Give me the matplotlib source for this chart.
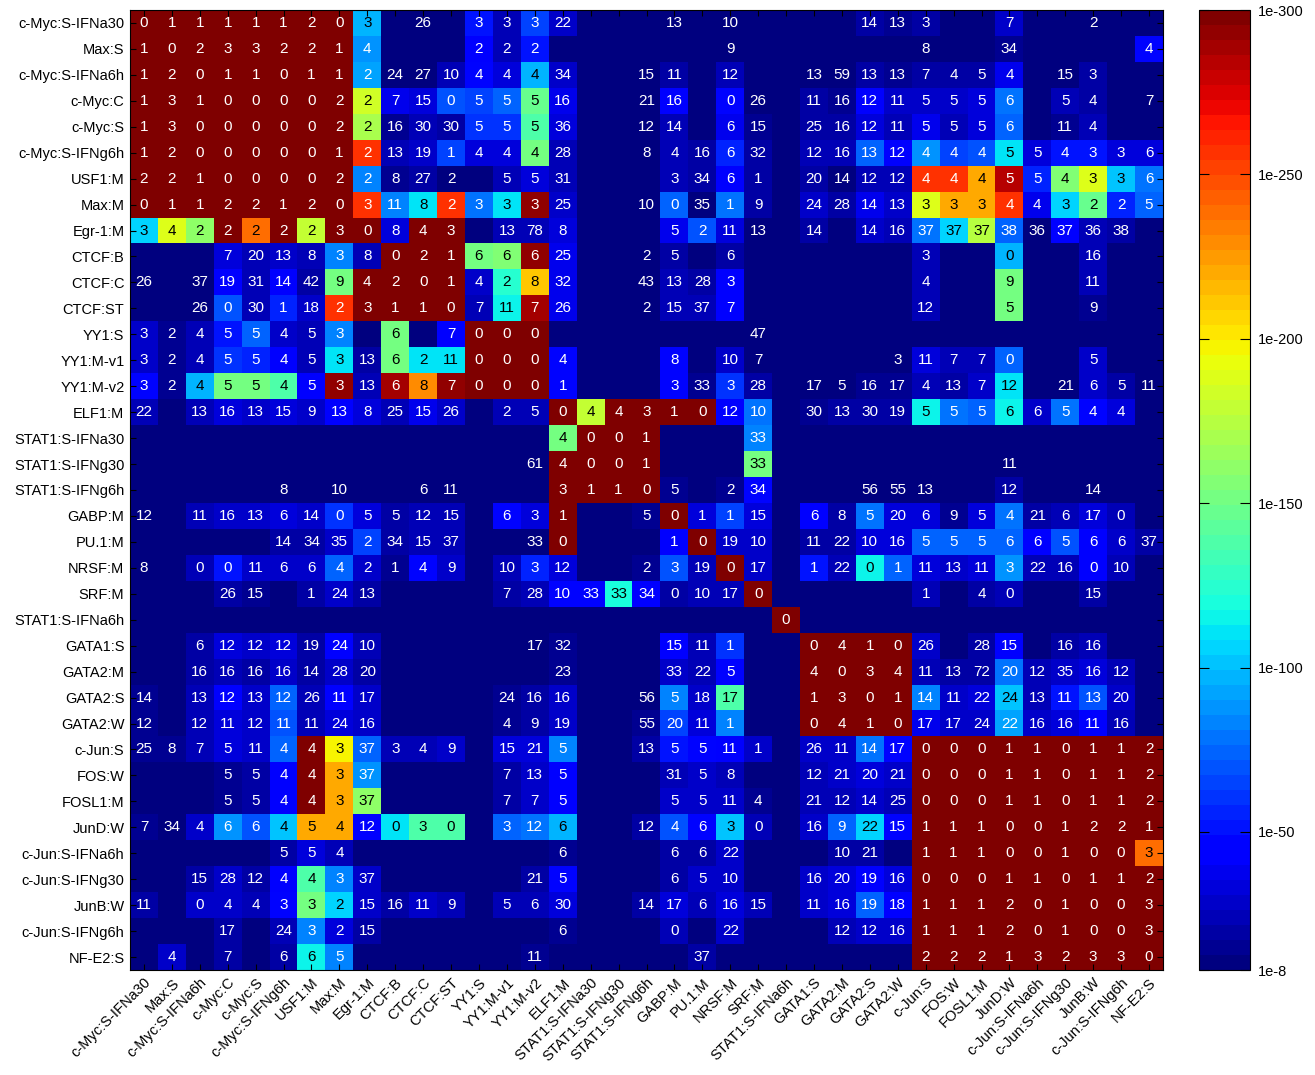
# co-binding heatmap: colour = p-value (-log10), text = distance
import numpy as np
import matplotlib
matplotlib.use('Agg')
import matplotlib.pyplot as plt
from matplotlib.colors import Normalize

plt.rcParams['font.family'] = ['Liberation Sans', 'DejaVu Sans']

FACTORS = ['c-Myc:S-IFNa30', 'Max:S', 'c-Myc:S-IFNa6h', 'c-Myc:C', 'c-Myc:S',
           'c-Myc:S-IFNg6h', 'USF1:M', 'Max:M', 'Egr-1:M', 'CTCF:B', 'CTCF:C',
           'CTCF:ST', 'YY1:S', 'YY1:M-v1', 'YY1:M-v2', 'ELF1:M', 'STAT1:S-IFNa30',
           'STAT1:S-IFNg30', 'STAT1:S-IFNg6h', 'GABP:M', 'PU.1:M', 'NRSF:M', 'SRF:M',
           'STAT1:S-IFNa6h', 'GATA1:S', 'GATA2:M', 'GATA2:S', 'GATA2:W', 'c-Jun:S',
           'FOS:W', 'FOSL1:M', 'JunD:W', 'c-Jun:S-IFNa6h', 'c-Jun:S-IFNg30', 'JunB:W',
           'c-Jun:S-IFNg6h', 'NF-E2:S']

# numbers printed in the cells ('.' = empty cell)
CELL_TEXT = [
    "0 1 1 1 1 1 2 0 3 . 26 . 3 3 3 22 . . . 13 . 10 . . . . 14 13 3 . . 7 . . 2 . .",
    "1 0 2 3 3 2 2 1 4 . . . 2 2 2 . . . . . . 9 . . . . . . 8 . . 34 . . . . 4",
    "1 2 0 1 1 0 1 1 2 24 27 10 4 4 4 34 . . 15 11 . 12 . . 13 59 13 13 7 4 5 4 . 15 3 . .",
    "1 3 1 0 0 0 0 2 2 7 15 0 5 5 5 16 . . 21 16 . 0 26 . 11 16 12 11 5 5 5 6 . 5 4 . 7",
    "1 3 0 0 0 0 0 2 2 16 30 30 5 5 5 36 . . 12 14 . 6 15 . 25 16 12 11 5 5 5 6 . 11 4 . .",
    "1 2 0 0 0 0 0 1 2 13 19 1 4 4 4 28 . . 8 4 16 6 32 . 12 16 13 12 4 4 4 5 5 4 3 3 6",
    "2 2 1 0 0 0 0 2 2 8 27 2 . 5 5 31 . . . 3 34 6 1 . 20 14 12 12 4 4 4 5 5 4 3 3 6",
    "0 1 1 2 2 1 2 0 3 11 8 2 3 3 3 25 . . 10 0 35 1 9 . 24 28 14 13 3 3 3 4 4 3 2 2 5",
    "3 4 2 2 2 2 2 3 0 8 4 3 . 13 78 8 . . . 5 2 11 13 . 14 . 14 16 37 37 37 38 36 37 36 38 .",
    ". . . 7 20 13 8 3 8 0 2 1 6 6 6 25 . . 2 5 . 6 . . . . . . 3 . . 0 . . 16 . .",
    "26 . 37 19 31 14 42 9 4 2 0 1 4 2 8 32 . . 43 13 28 3 . . . . . . 4 . . 9 . . 11 . .",
    ". . 26 0 30 1 18 2 3 1 1 0 7 11 7 26 . . 2 15 37 7 . . . . . . 12 . . 5 . . 9 . .",
    "3 2 4 5 5 4 5 3 . 6 . 7 0 0 0 . . . . . . . 47 . . . . . . . . . . . . . .",
    "3 2 4 5 5 4 5 3 13 6 2 11 0 0 0 4 . . . 8 . 10 7 . . . . 3 11 7 7 0 . . 5 . .",
    "3 2 4 5 5 4 5 3 13 6 8 7 0 0 0 1 . . . 3 33 3 28 . 17 5 16 17 4 13 7 12 . 21 6 5 11",
    "22 . 13 16 13 15 9 13 8 25 15 26 . 2 5 0 4 4 3 1 0 12 10 . 30 13 30 19 5 5 5 6 6 5 4 4 .",
    ". . . . . . . . . . . . . . . 4 0 0 1 . . . 33 . . . . . . . . . . . . . .",
    ". . . . . . . . . . . . . . 61 4 0 0 1 . . . 33 . . . . . . . . 11 . . . . .",
    ". . . . . 8 . 10 . . 6 11 . . . 3 1 1 0 5 . 2 34 . . . 56 55 13 . . 12 . . 14 . .",
    "12 . 11 16 13 6 14 0 5 5 12 15 . 6 3 1 . . 5 0 1 1 15 . 6 8 5 20 6 9 5 4 21 6 17 0 .",
    ". . . . . 14 34 35 2 34 15 37 . . 33 0 . . . 1 0 19 10 . 11 22 10 16 5 5 5 6 6 5 6 6 37",
    "8 . 0 0 11 6 6 4 2 1 4 9 . 10 3 12 . . 2 3 19 0 17 . 1 22 0 1 11 13 11 3 22 16 0 10 .",
    ". . . 26 15 . 1 24 13 . . . . 7 28 10 33 33 34 0 10 17 0 . . . . . 1 . 4 0 . . 15 . .",
    ". . . . . . . . . . . . . . . . . . . . . . . 0 . . . . . . . . . . . . .",
    ". . 6 12 12 12 19 24 10 . . . . . 17 32 . . . 15 11 1 . . 0 4 1 0 26 . 28 15 . 16 16 . .",
    ". . 16 16 16 16 14 28 20 . . . . . . 23 . . . 33 22 5 . . 4 0 3 4 11 13 72 20 12 35 16 12 .",
    "14 . 13 12 13 12 26 11 17 . . . . 24 16 16 . . 56 5 18 17 . . 1 3 0 1 14 11 22 24 13 11 13 20 .",
    "12 . 12 11 12 11 11 24 16 . . . . 4 9 19 . . 55 20 11 1 . . 0 4 1 0 17 17 24 22 16 16 11 16 .",
    "25 8 7 5 11 4 4 3 37 3 4 9 . 15 21 5 . . 13 5 5 11 1 . 26 11 14 17 0 0 0 1 1 0 1 1 2",
    ". . . 5 5 4 4 3 37 . . . . 7 13 5 . . . 31 5 8 . . 12 21 20 21 0 0 0 1 1 0 1 1 2",
    ". . . 5 5 4 4 3 37 . . . . 7 7 5 . . . 5 5 11 4 . 21 12 14 25 0 0 0 1 1 0 1 1 2",
    "7 34 4 6 6 4 5 4 12 0 3 0 . 3 12 6 . . 12 4 6 3 0 . 16 9 22 15 1 1 1 0 0 1 2 2 1",
    ". . . . . 5 5 4 . . . . . . . 6 . . . 6 6 22 . . . 10 21 . 1 1 1 0 0 1 0 0 3",
    ". . 15 28 12 4 4 3 37 . . . . . 21 5 . . . 6 5 10 . . 16 20 19 16 0 0 0 1 1 0 1 1 2",
    "11 . 0 4 4 3 3 2 15 16 11 9 . 5 6 30 . . 14 17 6 16 15 . 11 16 19 18 1 1 1 2 0 1 0 0 3",
    ". . . 17 . 24 3 2 15 . . . . . . 6 . . . 0 . 22 . . . 12 12 16 1 1 1 2 0 1 0 0 3",
    ". 4 . 7 . 6 6 5 . . . . . . 11 . . . . . 37 . . . . . . . 2 2 2 1 3 2 3 3 0",
]

# colour value: -log10(p), 8 .. 300
SCORE = [
    "300 300 300 300 300 300 300 300 95 8 12 8 50 25 65 28 8 8 8 12 8 12 8 8 8 8 18 15 20 8 8 28 8 8 12 8 8",
    "300 300 300 300 300 300 300 300 88 8 8 8 40 22 50 8 8 8 8 8 8 12 8 8 8 8 8 8 12 8 8 14 8 8 8 8 45",
    "300 300 300 300 300 300 300 300 92 12 12 25 45 35 95 28 8 8 12 20 8 22 8 8 12 12 20 15 18 20 18 38 8 12 18 8 8",
    "300 300 300 300 300 300 300 300 185 38 32 70 65 72 148 36 8 8 12 42 8 45 12 8 20 15 42 30 30 28 35 80 8 22 18 8 12",
    "300 300 300 300 300 300 300 300 172 14 26 20 60 60 140 32 8 8 12 22 8 36 15 8 18 18 35 25 36 22 35 75 8 15 26 8 8",
    "300 300 300 300 300 300 300 300 258 26 30 65 32 32 150 26 8 8 12 26 18 55 18 8 25 22 75 40 88 65 70 112 32 50 50 32 32",
    "300 300 300 300 300 300 300 300 85 14 18 12 8 25 35 25 8 8 8 26 18 40 20 8 18 12 25 22 258 258 220 282 55 154 190 100 78",
    "300 300 300 300 300 300 300 300 258 82 112 258 80 112 295 30 8 8 12 72 12 80 18 8 30 18 36 30 190 220 220 258 36 105 148 55 72",
    "105 190 160 300 240 300 178 300 300 35 300 300 12 22 26 35 8 8 8 36 68 35 12 8 18 8 30 25 80 108 175 75 12 40 26 18 8",
    "8 8 8 35 22 30 26 85 22 300 300 300 150 155 295 36 8 8 12 18 8 18 8 8 8 8 8 8 25 8 8 98 8 8 22 8 8",
    "12 8 12 40 22 40 18 150 300 300 300 300 30 125 212 36 8 8 12 22 18 40 8 8 8 8 8 8 25 8 8 150 8 8 22 8 8",
    "8 8 12 68 26 55 30 255 300 300 300 300 26 117 290 36 8 8 12 25 22 40 8 8 8 8 8 8 25 8 8 150 8 8 14 8 8",
    "30 14 22 50 75 30 25 82 8 150 8 42 300 300 300 8 8 8 8 8 8 8 12 8 8 8 8 8 8 8 8 8 8 8 8 8 8",
    "30 14 22 62 55 40 25 112 18 152 112 110 300 300 300 45 8 8 8 45 8 30 12 8 8 8 8 12 35 22 22 72 8 8 30 8 8",
    "45 14 95 150 150 138 42 295 22 290 228 292 300 300 300 45 8 8 8 45 14 60 20 8 12 12 14 14 25 20 30 110 8 12 30 20 12",
    "22 8 25 35 30 35 30 40 35 25 36 30 8 25 25 300 178 300 300 300 300 42 80 8 14 18 20 20 115 80 76 117 30 78 45 32 8",
    "8 8 8 8 8 8 8 8 8 8 8 8 8 8 8 152 300 300 300 8 8 8 85 8 8 8 8 8 8 8 8 8 8 8 8 8 8",
    "8 8 8 8 8 8 8 8 8 8 8 8 8 8 12 300 300 300 300 8 8 8 150 8 8 8 8 8 8 8 8 12 8 8 8 8 8",
    "8 8 8 8 8 12 8 12 8 8 12 12 8 8 8 300 300 300 300 14 8 14 45 8 8 8 12 12 12 8 8 18 8 8 12 8 8",
    "12 8 25 30 30 35 30 60 35 18 25 25 8 45 35 300 8 8 14 300 32 65 35 8 40 20 78 35 35 14 35 78 18 25 35 25 8",
    "8 8 8 8 8 18 18 30 65 18 25 22 8 8 12 300 8 8 8 42 300 30 30 8 18 20 35 35 72 72 72 75 40 68 40 30 18",
    "12 8 25 50 30 30 30 75 30 14 45 30 8 25 55 35 8 8 14 68 25 300 30 8 50 25 117 72 35 30 35 88 25 25 42 25 8",
    "8 8 8 18 14 8 20 30 20 8 8 8 8 20 25 45 45 118 40 20 22 25 300 8 8 8 8 8 25 8 20 22 8 8 20 8 8",
    "8 8 8 8 8 8 8 8 8 8 8 8 8 8 8 8 8 8 8 8 8 8 8 300 8 8 8 8 8 8 8 8 8 8 8 8 8",
    "8 8 20 35 30 35 20 40 22 8 8 8 8 8 12 14 8 8 8 42 25 60 8 8 300 300 300 300 30 8 20 40 8 20 25 8 8",
    "8 8 20 25 20 30 20 30 20 8 8 8 8 8 8 14 8 8 8 30 25 45 8 8 300 300 300 300 25 18 20 78 22 30 35 22 8",
    "14 8 25 40 30 72 25 42 30 8 8 8 8 14 20 28 8 8 12 85 30 138 8 8 300 300 300 300 85 30 35 100 25 50 68 30 8",
    "14 8 25 35 30 68 25 35 30 8 8 8 8 14 20 30 8 8 14 65 35 82 8 8 300 300 300 300 38 30 30 92 30 35 40 25 8",
    "14 16 25 35 30 72 300 198 75 25 25 30 8 35 35 82 8 8 20 50 45 42 30 8 30 28 78 45 300 300 300 300 300 300 300 300 300",
    "8 8 8 14 20 40 300 222 88 8 8 8 8 20 30 42 8 8 8 22 30 22 8 8 22 28 35 30 300 300 300 300 300 300 300 300 300",
    "8 8 8 14 20 40 300 222 160 8 8 8 8 20 30 42 8 8 8 30 28 30 14 8 22 25 30 25 300 300 300 300 300 300 300 300 300",
    "14 12 30 88 68 100 220 222 42 110 140 140 8 72 80 95 8 8 20 68 45 100 22 8 30 72 105 45 300 300 300 300 300 300 300 300 300",
    "8 8 8 8 8 20 35 22 8 8 8 8 8 8 8 14 8 8 8 20 20 30 8 8 8 18 20 8 300 300 300 300 300 300 300 300 240",
    "8 8 20 28 20 40 138 82 28 8 8 8 8 8 18 45 8 8 8 20 28 30 8 8 30 35 40 35 300 300 300 300 300 300 300 300 300",
    "20 8 28 30 25 45 150 105 28 20 28 25 8 25 22 35 8 8 20 35 22 35 22 8 30 35 72 42 300 300 300 300 300 300 300 300 300",
    "8 8 8 20 8 22 85 35 20 8 8 8 8 8 8 14 8 8 8 22 8 28 8 8 8 25 30 30 300 300 300 300 300 300 300 300 300",
    "8 30 8 18 8 20 115 82 8 8 8 8 8 8 14 8 8 8 8 8 20 8 8 8 8 8 8 8 300 300 300 300 300 300 300 300 300",
]

CBAR_TICKS = [8, 50, 100, 150, 200, 250, 300]
CBAR_LABELS = ['1e-8', '1e-50', '1e-100', '1e-150', '1e-200', '1e-250', '1e-300']

labels = np.array([r.split() for r in CELL_TEXT])
score = np.array([r.split() for r in SCORE], dtype=float)
n = len(FACTORS)
assert labels.shape == (n, n) and score.shape == (n, n)

W, H = 1315, 1075
fig = plt.figure(figsize=(W / 100, H / 100), dpi=100)
ax = fig.add_axes([130 / W, 1 - 970 / H, (1163 - 130) / W, 960 / H])

cmap = plt.get_cmap('jet', 64)
norm = Normalize(8, 300)
im = ax.imshow(score, cmap=cmap, norm=norm, aspect='auto', interpolation='nearest')

for i in range(n):
    for j in range(n):
        t = labels[i, j]
        if t == '.':
            continue
        r, g, b, _ = cmap(norm(score[i, j]))
        lum = 0.299 * r + 0.587 * g + 0.114 * b
        ax.text(j, i, t, ha='center', va='center', fontsize=11,
                color='black' if lum > 0.5 else 'white')

ax.set_xticks(range(n))
ax.set_yticks(range(n))
ax.set_xticklabels(FACTORS, rotation=45, ha='right', rotation_mode='anchor', fontsize=10.5)
ax.set_yticklabels(FACTORS, fontsize=10.5)
ax.tick_params(direction='in', length=4, width=0.8, top=True, right=True, pad=4)
for s in ax.spines.values():
    s.set_linewidth(0.8)

cax = fig.add_axes([1199 / W, 1 - 970 / H, 51 / W, 960 / H])
cb = fig.colorbar(im, cax=cax, ticks=CBAR_TICKS)
cb.ax.set_yticklabels(CBAR_LABELS, fontsize=10.5)
cb.ax.tick_params(direction='in', left=True, right=True, length=7, width=0.8, pad=6)
cb.outline.set_linewidth(0.8)

plt.savefig('out.png', dpi=100)
plt.close()
